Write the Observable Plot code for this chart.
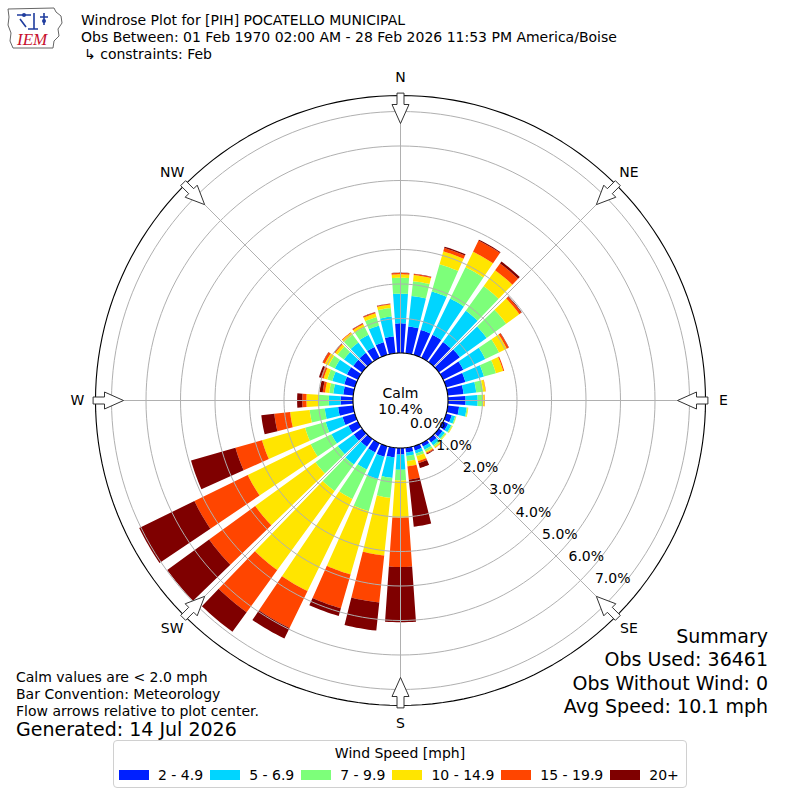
<!DOCTYPE html>
<html><head><meta charset="utf-8">
<script src="https://cdn.jsdelivr.net/npm/d3@7"></script>
<script src="https://cdn.jsdelivr.net/npm/@observablehq/plot@0.6"></script>
<style>
html,body{margin:0;padding:0;background:#fff;}
#wrap{position:relative;width:800px;height:800px;font-family:"DejaVu Sans",sans-serif;color:#000;overflow:hidden}
#wrap svg.plot{position:absolute;left:0;top:0}
.t{position:absolute;white-space:nowrap;line-height:1.2;transform:translateY(-50%)}
#legend{position:absolute;left:113px;top:740px;width:572px;height:46px;border:1px solid #d0d0d0;border-radius:4px;background:#fff;font-size:14px}
#legend .ttl{position:absolute;left:0;right:0;top:4px;text-align:center}
#legend .row{position:absolute;left:5px;top:26px;display:flex;align-items:center}
#legend .sw{width:30px;height:10px;margin-right:9px}
#legend .lb{margin-right:7px}
</style></head><body><div id="wrap"></div>
<script>
// ---------------- data ----------------
const directions = d3.range(0, 360, 10); // bar centre bearings (deg)
const speedBins = ["2 - 4.9", "5 - 6.9", "7 - 9.9", "10 - 14.9", "15 - 19.9", "20+"];
const binColors = ["#0020ff", "#00d5ff", "#7dff7a", "#ffe500", "#ff4500", "#7f0000"];
// percent of observations per direction (0,10,...,350) per speed bin
const pct_2_5   = [.86,.78,.75,.74,.72,.75,.65,.58,.46,.51,.33,.17,.16,.13,.13,.11,.13,.14,.19,.28,.32,.30,.28,.30,.30,.37,.44,.36,.29,.32,.35,.32,.33,.35,.38,.49];
const pct_5_7   = [.86,.89,1.16,1.17,1.12,.96,.71,.56,.37,.35,.22,.10,.10,.08,.10,.10,.09,.10,.44,.60,.67,.55,.64,.57,.55,.51,.39,.34,.29,.36,.39,.33,.37,.39,.50,.58];
const pct_7_10  = [.46,.43,.82,1.01,.88,.70,.44,.36,.20,.16,.03,.03,.03,.04,.05,.06,.08,.15,.31,.58,.97,.95,.95,.80,.67,.62,.44,.29,.12,.15,.20,.23,.28,.25,.26,.25];
const pct_10_15 = [.10,.18,.39,.50,.57,.47,.25,.22,.07,.04,.02,.01,.02,.02,.04,.04,.15,.15,1.08,1.68,1.91,2.97,2.83,2.16,2.03,1.30,.57,.36,.12,.11,.12,.08,.07,.09,.11,.10];
const pct_15_20 = [.04,.03,.10,.36,.24,.07,.06,.03,.01,.01,0,0,0,0,.01,.03,.06,.39,1.43,1.37,1.02,1.19,1.51,1.65,1.72,.80,.46,.12,.07,.08,.07,.03,.02,.03,.03,.02];
const pct_20p   = [.01,.01,.04,.03,.07,.02,.01,0,0,0,0,0,0,0,0,.02,.15,1.37,1.60,.82,.23,.34,.70,1.50,1.78,1.34,.38,.15,.09,.06,.01,.01,0,.01,.01,.01];
const series = [pct_2_5, pct_5_7, pct_7_10, pct_10_15, pct_15_20, pct_20p];
const ringTicks = [0, 1, 2, 3, 4, 5, 6, 7];
const compassLabels = ["N", "NE", "E", "SE", "S", "SW", "W", "NW"];
const compassBearings = [0, 45, 90, 135, 180, 225, 270, 315];
const calmPct = 10.4;
const titleLines = ["Windrose Plot for [PIH] POCATELLO MUNICIPAL",
  "Obs Between: 01 Feb 1970 02:00 AM - 28 Feb 2026 11:53 PM America/Boise",
  "\u21b3 constraints: Feb"];
const summaryLines = ["Summary", "Obs Used: 36461", "Obs Without Wind: 0", "Avg Speed: 10.1 mph"];
const noteLines = ["Calm values are < 2.0 mph", "Bar Convention: Meteorology", "Flow arrows relative to plot center."];
const generated = "Generated: 14 Jul 2026";
const legendTitle = "Wind Speed [mph]";

// ---------------- geometry (in percent units) ----------------
const PX = 34.5;              // pixels per 1 %
const L = 400 / PX;           // half extent of the square frame
const R0 = 47.5 / PX;         // calm circle radius (0 % ring)
const ROUT = R0 + 7.464;      // outer frame circle
const HALF = 4;               // half opening of a bar (deg)
const rad = a => a * Math.PI / 180;
const pol = (r, a) => [r * Math.sin(rad(a)), r * Math.cos(rad(a))];

const bars = [];
directions.forEach((dir, i) => {
  let cum = 0;
  series.forEach((s, k) => {
    const v0 = cum, v1 = cum + s[i];
    cum = v1;
    if (s[i] <= 0) return;
    const id = i + "-" + k, n = 8, pts = [];
    for (let j = 0; j <= n; j++) pts.push(pol(R0 + v0, dir - HALF + 2 * HALF * j / n));
    for (let j = n; j >= 0; j--) pts.push(pol(R0 + v1, dir - HALF + 2 * HALF * j / n));
    pts.forEach(([x, y]) => bars.push({x, y, id, bin: speedBins[k]}));
  });
});

function circle(r, id) {
  return d3.range(0, 360, 2).map(a => { const [x, y] = pol(r, a); return {x, y, id}; });
}
const rings = ringTicks.filter(t => t > 0).flatMap(t => circle(R0 + t, "r" + t));
const calmCircle = circle(R0, "calm");
const outerCircle = circle(ROUT, "outer");
const spokes = compassBearings.map(a => { const [x1, y1] = pol(R0, a), [x2, y2] = pol(ROUT, a); return {x1, y1, x2, y2}; });

// hollow arrows pointing to the centre (px radial, px tangential)
const arrowShape = [[307, -3.5], [296, -3.5], [296, -8.5], [277, 0], [296, 8.5], [296, 3.5], [307, 3.5]];
const arrows = compassBearings.flatMap((a, i) => arrowShape.map(([r, w]) => {
  const s = Math.sin(rad(a)), c = Math.cos(rad(a));
  return {x: (r * s + w * c) / PX, y: (r * c - w * s) / PX, id: "a" + i};
}));
const compassText = compassLabels.map((t, i) => { const [x, y] = pol(323 / PX, compassBearings[i]); return {x, y, t}; });
const ringText = ringTicks.map(t => { const [x, y] = pol(R0 + t - 12 / PX, 130); return {x, y, t: t.toFixed(1) + "%"}; });

const chart = Plot.plot({
  width: 800, height: 800, margin: 0,
  x: {domain: [-L, L], axis: null},
  y: {domain: [-L, L], axis: null},
  color: {domain: speedBins, range: binColors},
  style: {fontFamily: "DejaVu Sans", background: "transparent"},
  marks: [
    Plot.line(bars, {x: "x", y: "y", z: "id", fill: "bin", stroke: "none", curve: "linear-closed"}),
    Plot.line(rings, {x: "x", y: "y", z: "id", stroke: "#b0b0b0", strokeWidth: 1, curve: "linear-closed"}),
    Plot.link(spokes, {x1: "x1", y1: "y1", x2: "x2", y2: "y2", stroke: "#b0b0b0", strokeWidth: 1}),
    Plot.line(outerCircle, {x: "x", y: "y", z: "id", stroke: "#000", strokeWidth: 1.1, curve: "linear-closed"}),
    Plot.line(calmCircle, {x: "x", y: "y", z: "id", fill: "#fff", stroke: "#000", strokeWidth: 1.1, curve: "linear-closed"}),
    Plot.line(arrows, {x: "x", y: "y", z: "id", fill: "#fff", stroke: "#333", strokeWidth: 1, curve: "linear-closed"}),
    Plot.text(compassText, {x: "x", y: "y", text: "t", fontSize: 14, fill: "#000"}),
    Plot.text(ringText, {x: "x", y: "y", text: "t", fontSize: 14, fill: "#000"}),
    Plot.text([{x: 0, y: 0, t: "Calm\n" + calmPct.toFixed(1) + "%"}], {x: "x", y: "y", text: "t", fontSize: 14, lineHeight: 1.15, fill: "#000"})
  ]
});
chart.classList.add("plot");
const wrap = document.getElementById("wrap");
wrap.appendChild(chart);

function place(text, opts) {
  const d = document.createElement("div");
  d.className = "t";
  d.textContent = text;
  d.style.fontSize = opts.size + "px";
  d.style.top = opts.cy + "px";
  if (opts.left != null) d.style.left = opts.left + "px";
  if (opts.right != null) d.style.right = opts.right + "px";
  wrap.appendChild(d);
}
titleLines.forEach((t, i) => place(t, {left: i === 2 ? 84 : 81, cy: [20, 37, 54][i], size: 14}));
summaryLines.forEach((t, i) => place(t, {right: 32, cy: 636 + i * 23.4, size: 19}));
noteLines.forEach((t, i) => place(t, {left: 16, cy: 677 + i * 17, size: 14}));
place(generated, {left: 16, cy: 729, size: 19});

// legend
const lg = document.createElement("div");
lg.id = "legend";
lg.innerHTML = `<div class="ttl">${legendTitle}</div><div class="row">` +
  speedBins.map((b, i) => `<div class="sw" style="background:${binColors[i]}"></div><div class="lb">${b}</div>`).join("") + `</div>`;
wrap.appendChild(lg);

// logo
const logo = document.createElement("div");
logo.style.cssText = "position:absolute;left:4px;top:3px;width:62px;height:48px";
logo.innerHTML = `<svg width="62" height="48" viewBox="0 0 62 48">
<path d="M4,6 L50,5 L52,9 L57,13 L58,20 L54,26 L55,33 L50,38 L49,45 L9,45 L6,38 L7,30 L4,22 L5,14 Z" fill="#fff" stroke="#666" stroke-width="1"/>
<path d="M13,12 L27,12 M16,16 L22,24 M30,10 L30,26 M36,14 L44,14 M40,10 L40,22 M24,26 L34,26" stroke="#1f3c9e" stroke-width="1.6" fill="none"/>
<circle cx="20" cy="12" r="2" fill="#1f3c9e"/><circle cx="40" cy="18" r="2" fill="#1f3c9e"/>
<text x="13" y="42" font-family="Liberation Serif" font-style="italic" font-size="17" fill="#c8102e">IEM</text>
</svg>`;
wrap.appendChild(logo);
</script></body></html>
